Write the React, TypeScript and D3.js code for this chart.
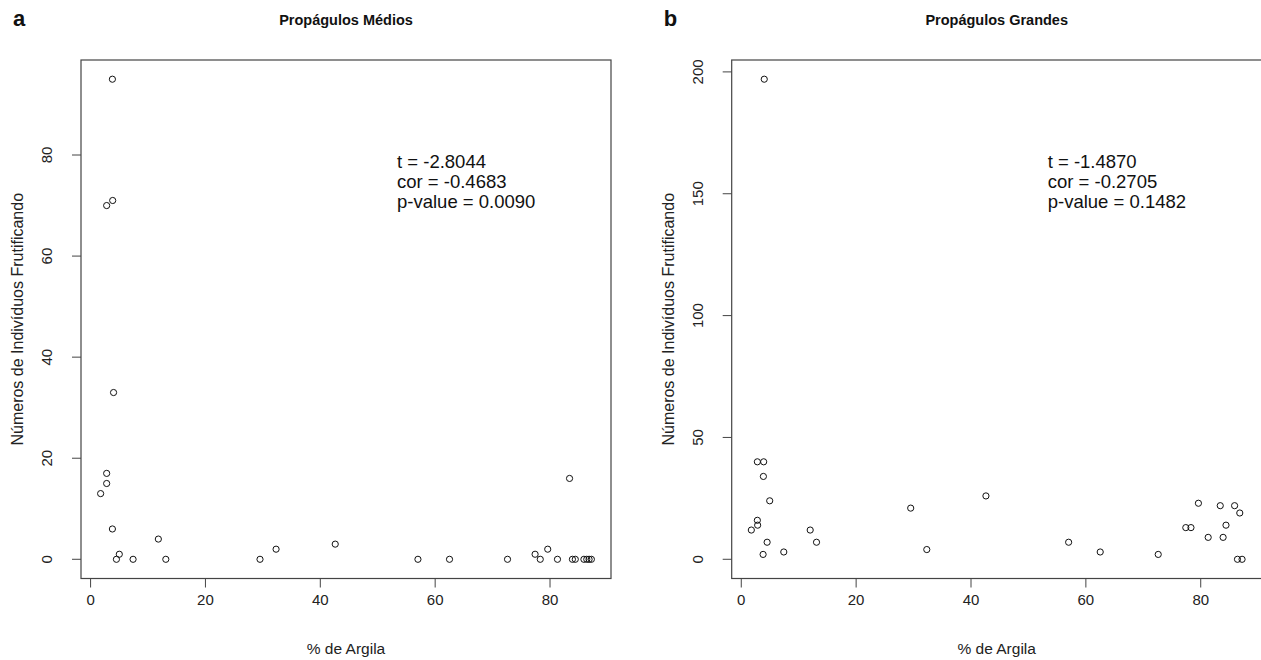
import React from "react";
import * as d3 from "d3";

// % de Argila (x) and counts (y) for each panel
const argilaMedios = [3.8, 2.8, 3.85, 4.0, 2.8, 2.8, 1.75, 3.8, 11.8, 5.0, 4.5, 7.4, 13.1, 29.5, 32.3, 42.6, 57.0, 62.5, 72.6, 77.4, 78.3, 79.6, 81.3, 83.4, 83.9, 84.4, 85.9, 86.4, 86.8, 87.2];
const individuosMedios = [95, 70, 71, 33, 17, 15, 13, 6, 4, 1, 0, 0, 0, 0, 2, 3, 0, 0, 0, 1, 0, 2, 0, 16, 0, 0, 0, 0, 0, 0];

const argilaGrandes = [3.8, 2.8, 3.85, 4.0, 2.8, 2.85, 1.75, 3.9, 12.0, 4.95, 4.5, 7.4, 13.1, 29.5, 32.3, 42.6, 57.0, 62.5, 72.6, 77.4, 78.3, 79.6, 81.3, 83.4, 83.9, 84.4, 85.9, 86.4, 86.8, 87.2];
const individuosGrandes = [2, 40, 34, 197, 16, 14, 12, 40, 12, 24, 7, 3, 7, 21, 4, 26, 7, 3, 2, 13, 13, 23, 9, 22, 9, 14, 22, 0, 19, 0];

const xTicks = [0, 20, 40, 60, 80];
const yTicksMedios = [0, 20, 40, 60, 80];
const yTicksGrandes = [0, 50, 100, 150, 200];

const statsMedios = ["t = -2.8044", "cor = -0.4683", "p-value = 0.0090"];
const statsGrandes = ["t = -1.4870", "cor = -0.2705", "p-value = 0.1482"];

const FONT = "'Liberation Sans', Arial, sans-serif";

type PanelProps = {
  ox: number;
  letter: string;
  title: string;
  xs: number[];
  ys: number[];
  yTicks: number[];
  stats: string[];
};

function Panel({ ox, letter, title, xs, ys, yTicks, stats }: PanelProps) {
  const left = 81 + ox;
  const right = 611 + ox;
  const top = 60;
  const bottom = 578.5;
  // R-style 4% range extension
  const xmin = d3.min(xs)!;
  const xmax = d3.max(xs)!;
  const xr = xmax - xmin;
  const x = d3.scaleLinear().domain([xmin - 0.04 * xr, xmax + 0.04 * xr]).range([left, right]);
  const ymin = d3.min(ys)!;
  const ymax = d3.max(ys)!;
  const yr = ymax - ymin;
  const y = d3.scaleLinear().domain([ymin - 0.04 * yr, ymax + 0.04 * yr]).range([bottom, top]);
  const cx = (left + right) / 2;
  const cy = (top + bottom) / 2;
  const axisColor = "#444";
  const textColor = "#222";
  return (
    <g fontFamily={FONT}>
      <text x={ox + 13} y={26} fontSize={22} fontWeight="bold" fill="#111">{letter}</text>
      <text x={cx} y={25} fontSize={14.5} fontWeight="bold" textAnchor="middle" fill="#111">{title}</text>
      <rect x={left} y={top} width={right - left} height={bottom - top} fill="none" stroke={axisColor} strokeWidth={1.2} />
      {/* x axis */}
      <line x1={x(xTicks[0])} x2={x(xTicks[xTicks.length - 1])} y1={bottom} y2={bottom} stroke={axisColor} />
      {xTicks.map((t) => (
        <g key={"x" + t}>
          <line x1={x(t)} x2={x(t)} y1={bottom} y2={bottom + 9} stroke={axisColor} />
          <text x={x(t)} y={605} fontSize={15} textAnchor="middle" fill={textColor}>{t}</text>
        </g>
      ))}
      <text x={cx} y={654} fontSize={15.5} textAnchor="middle" fill={textColor}>% de Argila</text>
      {/* y axis */}
      {yTicks.map((t) => (
        <g key={"y" + t}>
          <line x1={left - 9} x2={left} y1={y(t)} y2={y(t)} stroke={axisColor} />
          <text transform={`translate(${left - 29},${y(t)}) rotate(-90)`} fontSize={15} textAnchor="middle" fill={textColor}>{t}</text>
        </g>
      ))}
      <text transform={`translate(${ox + 23},${cy}) rotate(-90)`} fontSize={16} textAnchor="middle" fill={textColor}>Números de Indivíduos Frutificando</text>
      {/* points */}
      {xs.map((v, i) => (
        <circle key={i} cx={x(v)} cy={y(ys[i])} r={3.1} fill="none" stroke="#111" strokeWidth={1} />
      ))}
      {/* stats */}
      {stats.map((s, i) => (
        <text key={s} x={397 + ox} y={168 + i * 20} fontSize={18.5} fill="#111">{s}</text>
      ))}
    </g>
  );
}

export default function App() {
  return (
    <svg width={1261} height={660} style={{ position: "absolute", left: 0, top: 0, background: "#fff" }}>
      <rect width={1261} height={660} fill="#fff" />
      <Panel ox={0} letter="a" title="Propágulos Médios" xs={argilaMedios} ys={individuosMedios} yTicks={yTicksMedios} stats={statsMedios} />
      <Panel ox={650.7} letter="b" title="Propágulos Grandes" xs={argilaGrandes} ys={individuosGrandes} yTicks={yTicksGrandes} stats={statsGrandes} />
    </svg>
  );
}
